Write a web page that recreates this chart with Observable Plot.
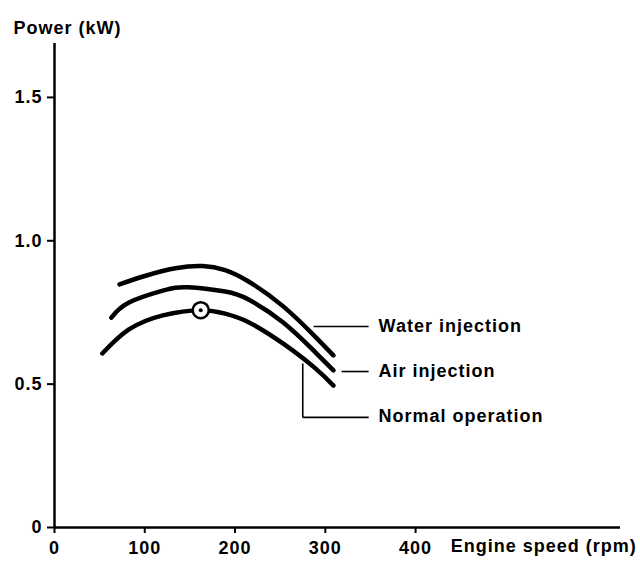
<!DOCTYPE html>
<html>
<head>
<meta charset="utf-8">
<script src="https://cdn.jsdelivr.net/npm/d3@7"></script>
<script src="https://cdn.jsdelivr.net/npm/@observablehq/plot@0.6"></script>
<style>
  html, body { margin: 0; padding: 0; background: #fff; }
  svg text { letter-spacing: 1px; }
</style>
</head>
<body>
<div id="chart"></div>
<script>
// Data
const seriesNames = ["Water injection", "Air injection", "Normal operation"];
const rpmWater = [72, 101, 134, 164, 189, 215, 253, 289, 309];
const powerWater = [0.848, 0.878, 0.904, 0.912, 0.898, 0.858, 0.772, 0.665, 0.600];
const rpmAir = [63, 82, 120, 148, 189, 215, 253, 289, 309];
const powerAir = [0.732, 0.784, 0.826, 0.838, 0.823, 0.795, 0.716, 0.611, 0.548];
const rpmNormal = [53, 82, 120, 162, 189, 215, 253, 289, 309];
const powerNormal = [0.607, 0.690, 0.740, 0.758, 0.746, 0.716, 0.642, 0.555, 0.495];
const markerRpm = [162];
const markerPower = [0.758];
const xTicks = [0, 100, 200, 300, 400];
const yTicks = [0, 0.5, 1.0, 1.5];
const yTickLabels = ["0", "0.5", "1.0", "1.5"];
const xTitle = "Engine speed (rpm)";
const yTitle = "Power (kW)";
// annotation anchors (data coordinates)
const labelRpm = [359, 359, 359];
const labelPower = [0.701, 0.544, 0.388];
const leaderX1 = [287, 318, 275, 275];
const leaderY1 = [0.701, 0.544, 0.572, 0.384];
const leaderX2 = [348, 348, 275, 348];
const leaderY2 = [0.701, 0.544, 0.384, 0.384];

const toRows = (xs, ys, name) => xs.map((x, i) => ({x, y: ys[i], s: name}));
const curves = [
  ...toRows(rpmWater, powerWater, seriesNames[0]),
  ...toRows(rpmAir, powerAir, seriesNames[1]),
  ...toRows(rpmNormal, powerNormal, seriesNames[2])
];
const labels = seriesNames.map((t, i) => ({t, x: labelRpm[i], y: labelPower[i]}));
const leaders = leaderX1.map((x1, i) => ({x1, y1: leaderY1[i], x2: leaderX2[i], y2: leaderY2[i]}));
const marker = markerRpm.map((x, i) => ({x, y: markerPower[i]}));

const xMax = 627, yMax = 1.688;

const chart = Plot.plot({
  width: 640,
  height: 563,
  marginLeft: 54,
  marginRight: 20,
  marginTop: 43,
  marginBottom: 36,
  x: {domain: [0, xMax]},
  y: {domain: [0, yMax]},
  style: {fontFamily: "'Liberation Sans', Arial, sans-serif", fontWeight: "bold", fontSize: "18px", color: "#000", background: "#fff"},
  marks: [
    Plot.axisX({ticks: xTicks, tickSize: 6, tickPadding: 8, tickFormat: d => String(d), label: null, strokeWidth: 2, fontSize: 18}),
    Plot.axisY({ticks: yTicks, tickSize: 7, tickPadding: 5, tickFormat: d => yTickLabels[yTicks.indexOf(d)], label: null, strokeWidth: 2, fontSize: 18}),
    Plot.ruleX([0], {y1: 0, y2: yMax, strokeWidth: 2.5}),
    Plot.ruleY([0], {x1: 0, x2: xMax, strokeWidth: 2.5}),
    Plot.line(curves, {x: "x", y: "y", z: "s", stroke: "#000", strokeWidth: 4.5, curve: "natural", strokeLinecap: "round"}),
    Plot.link(leaders, {x1: "x1", y1: "y1", x2: "x2", y2: "y2", stroke: "#000", strokeWidth: 1.6}),
    Plot.dot(marker, {x: "x", y: "y", r: 8, fill: "#fff", stroke: "#000", strokeWidth: 2.5}),
    Plot.dot(marker, {x: "x", y: "y", r: 2, fill: "#000"}),
    Plot.text(labels, {x: "x", y: "y", text: "t", textAnchor: "start", fontSize: 18, fontWeight: "bold"}),
    Plot.text([xTitle], {x: [439], frameAnchor: "bottom", dy: 24, textAnchor: "start", fontSize: 18, fontWeight: "bold"}),
    Plot.text([yTitle], {frameAnchor: "top-left", dx: -41, dy: -22, textAnchor: "start", fontSize: 18, fontWeight: "bold"})
  ]
});
document.getElementById("chart").appendChild(chart);
</script>
</body>
</html>
